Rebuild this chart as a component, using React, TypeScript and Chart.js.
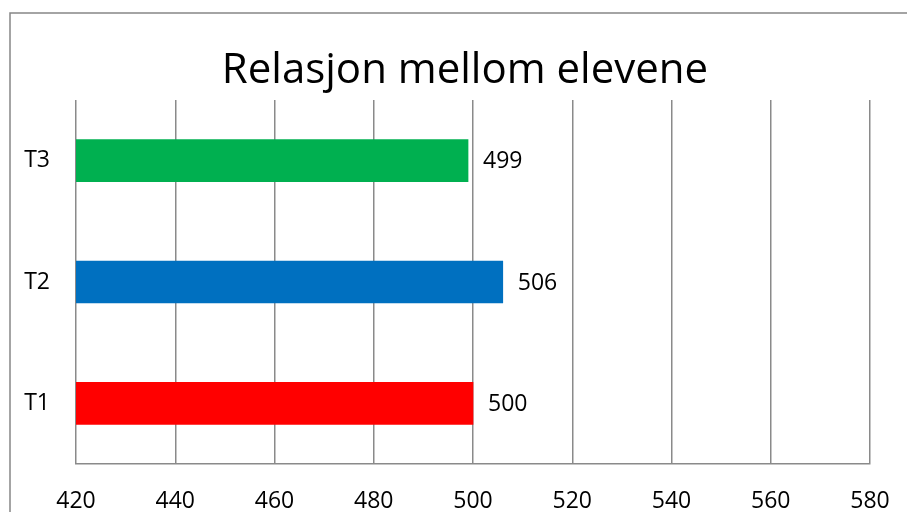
import React, { useEffect, useRef } from "react";
import { Chart, registerables } from "chart.js";

Chart.register(...registerables);

const categories = ["T1", "T2", "T3"];
const values = [500, 506, 499];
const barColors = ["#FF0000", "#0070C0", "#00B050"];
const xTicks = [420, 440, 460, 480, 500, 520, 540, 560, 580];
const titleText = "Relasjon mellom elevene";

const FONT = "'Open Sans', sans-serif";

const framePlugin = {
  id: "frame",
  beforeDraw(chart: any) {
    const ctx = chart.ctx;
    ctx.save();
    ctx.fillStyle = "#ffffff";
    ctx.fillRect(0, 0, chart.width, chart.height);
    ctx.strokeStyle = "#868686";
    ctx.lineWidth = 1.5;
    ctx.strokeRect(10, 13, 2000, 2000);
    ctx.font = `42px ${FONT}`;
    ctx.fillStyle = "#000000";
    ctx.textAlign = "center";
    ctx.textBaseline = "alphabetic";
    ctx.fillText(titleText, 465, 83);
    ctx.restore();
  },
};

const valueLabelPlugin = {
  id: "valueLabels",
  afterDatasetsDraw(chart: any) {
    const ctx = chart.ctx;
    const meta = chart.getDatasetMeta(0);
    ctx.save();
    ctx.font = `23px ${FONT}`;
    ctx.fillStyle = "#000000";
    ctx.textAlign = "left";
    ctx.textBaseline = "middle";
    meta.data.forEach((bar: any, i: number) => {
      ctx.fillText(String(values[i]), bar.x + 15, bar.y + 1);
    });
    ctx.restore();
  },
};

export default function App() {
  const ref = useRef<HTMLCanvasElement | null>(null);
  useEffect(() => {
    if (!ref.current) return;
    const chart = new Chart(ref.current, {
      type: "bar",
      data: {
        labels: categories,
        datasets: [
          {
            data: values,
            backgroundColor: barColors,
            borderWidth: 0,
            barThickness: 42,
          },
        ],
      },
      plugins: [framePlugin, valueLabelPlugin],
      options: {
        indexAxis: "y",
        responsive: false,
        animation: false,
        layout: { padding: { top: 100, left: 0, right: 37, bottom: 0 } },
        plugins: {
          legend: { display: false },
          tooltip: { enabled: false },
          title: { display: false },
        },
        scales: {
          x: {
            type: "linear",
            min: xTicks[0],
            max: xTicks[xTicks.length - 1],
            afterBuildTicks(axis: any) {
              axis.ticks = xTicks.map((v) => ({ value: v }));
            },
            afterFit(axis: any) {
              axis.height = 48;
              axis.paddingLeft = 0;
              axis.paddingRight = 0;
            },
            grid: {
              color: "#8a8a8a",
              lineWidth: 1.5,
              drawTicks: false,
            },
            border: { display: true, color: "#8a8a8a", width: 1.5 },
            ticks: {
              color: "#000000",
              font: { family: FONT, size: 23 },
              padding: 24,
              maxRotation: 0,
            },
          },
          y: {
            type: "category",
            reverse: true,
            afterFit(axis: any) {
              axis.width = 76;
              axis.paddingTop = 0;
              axis.paddingBottom = 0;
            },
            grid: { display: false, drawTicks: false },
            border: { display: false },
            ticks: {
              color: "#000000",
              font: { family: FONT, size: 23 },
              padding: 26,
            },
          },
        },
      },
    } as any);
    return () => chart.destroy();
  }, []);
  return (
    <div style={{ position: "absolute", left: 0, top: 0, width: 907, height: 512 }}>
      <canvas ref={ref} width={907} height={512} />
    </div>
  );
}
